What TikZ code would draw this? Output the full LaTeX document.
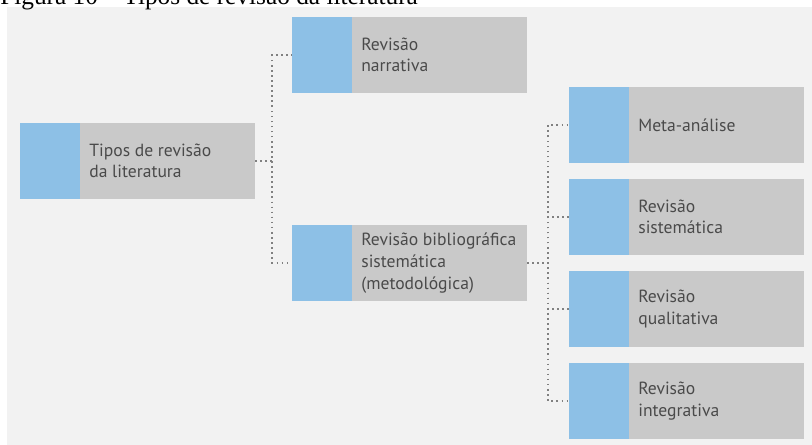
\documentclass[tikz,border=0pt]{standalone}
\usepackage{fontspec}
\setmainfont{PT Sans}
\newfontfamily\capfont{Liberation Serif}
\usetikzlibrary{positioning,calc}
\definecolor{bgpanel}{HTML}{F2F2F2}
\definecolor{boxgray}{HTML}{C9C9C9}
\definecolor{stripblue}{HTML}{8DC0E6}
\definecolor{txtgray}{HTML}{4A4A4A}
\definecolor{dotgray}{HTML}{808080}
\tikzset{
  revbox/.style={rectangle, fill=boxgray, minimum width=176.25pt,
    minimum height=57pt, inner sep=0pt,
    path picture={\fill[stripblue] (path picture bounding box.south west)
      rectangle ($(path picture bounding box.north west)+(60,0)$);}},
  revtext/.style={inner sep=0pt, align=left, text=txtgray,
    font=\fontsize{13.2}{16.2}\selectfont},
  link/.style={draw=dotgray, line width=1.2pt, dash pattern=on 1.2pt off 2.6pt}
}
\begin{document}
\begin{tikzpicture}[x=0.75pt,y=-0.75pt]
  \useasboundingbox (0,0) rectangle (812,445);
  % panel
  \fill[bgpanel] (7,7) rectangle (812,445);
  % caption, cut by the top edge
  \node[anchor=base west, inner sep=0pt, font=\capfont\fontsize{19}{21}\selectfont]
    (cap) at (0,5) {Figura 10 – Tipos de revisão da literatura};
  % root
  \node[revbox] (tipos) at (137.5,161) {};
  \node[revtext, right=52pt of tipos.west] (tipos-t) {Tipos de revisão\\da literatura};
  % second level
  \node[revbox] (narr) at (409.5,55) {};
  \node[revtext, right=52pt of narr.west] (narr-t) {Revisão\\narrativa};
  \node[revbox] (bib) at (409.5,263) {};
  \node[revtext, right=52pt of bib.west] (bib-t) {Revisão bibliográfica\\sistemática\\(metodológica)};
  % third level
  \node[revbox] (meta) at (686.5,125) {};
  \node[revtext, right=52pt of meta.west] (meta-t) {Meta-análise};
  \node[revbox] (sistm) at (686.5,217) {};
  \node[revtext, right=52pt of sistm.west] (sistm-t) {Revisão\\sistemática};
  \node[revbox] (qual) at (686.5,309) {};
  \node[revtext, right=52pt of qual.west] (qual-t) {Revisão\\qualitativa};
  \node[revbox] (integ) at (686.5,401) {};
  \node[revtext, right=52pt of integ.west] (integ-t) {Revisão\\integrativa};
  % dotted connectors
  \coordinate (j1) at ($(tipos.east)+(17,0)$);
  \draw[link] (tipos.east) -- (j1) |- (narr.west);
  \draw[link] (j1) |- (bib.west);
  \coordinate (j2) at ($(bib.east)+(21,0)$);
  \foreach \c in {meta,sistm,qual,integ}
    \draw[link] (bib.east) -- (j2) |- (\c.west);
\end{tikzpicture}
\end{document}
